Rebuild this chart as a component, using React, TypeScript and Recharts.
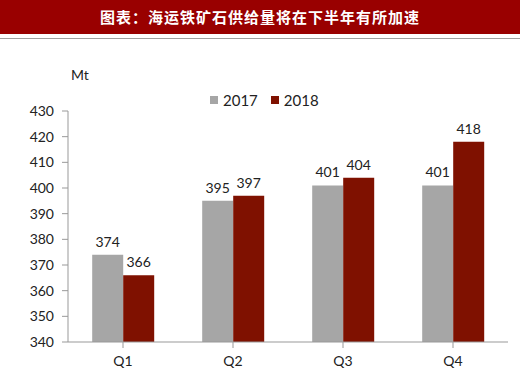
import React from 'react';
import { BarChart, Bar, XAxis, YAxis, LabelList } from 'recharts';

const categories = ['Q1', 'Q2', 'Q3', 'Q4'];
const values2017 = [374, 395, 401, 401];
const values2018 = [366, 397, 404, 418];
const yTicks = [340, 350, 360, 370, 380, 390, 400, 410, 420, 430];

const data = categories.map((q, i) => ({ q, a: values2017[i], b: values2018[i] }));

const GRAY = '#A6A6A6';
const RED = '#7F1100';
const FONT = 'Lato, "Noto Sans", sans-serif';

export default function App() {
  return (
    <div style={{ position: 'absolute', left: 0, top: 0, width: 520, height: 376, background: '#fff', overflow: 'hidden' }}>
      <div style={{ position: 'absolute', left: 0, top: 0, width: 520, height: 34, background: '#990000', color: '#fff', fontFamily: '"Noto Sans CJK SC", sans-serif', fontWeight: 700, fontSize: 15, lineHeight: '34px', textAlign: 'center', letterSpacing: 1 }}>
        图表：海运铁矿石供给量将在下半年有所加速
      </div>
      <div style={{ position: 'absolute', left: 0, top: 38, width: 520, height: 1, background: '#A0A0A0' }} />
      <div style={{ position: 'absolute', left: 71, top: 66, fontFamily: FONT, fontSize: 14, color: '#222' }}>Mt</div>
      <div style={{ position: 'absolute', left: 210, top: 91, display: 'flex', alignItems: 'center', fontFamily: FONT, fontSize: 15, color: '#222' }}>
        <span style={{ width: 8, height: 8, background: GRAY, display: 'inline-block', marginRight: 5 }} />
        <span style={{ marginRight: 13 }}>2017</span>
        <span style={{ width: 8, height: 8, background: RED, display: 'inline-block', marginRight: 5 }} />
        <span>2018</span>
      </div>
      <div style={{ position: 'absolute', left: 0, top: 0 }}>
        <BarChart width={520} height={376} data={data} margin={{ top: 111, right: 12, bottom: 0, left: 0 }} barCategoryGap="22%" barGap={0}>
          <XAxis dataKey="q" height={34} stroke="#999" tickSize={6} tickMargin={8} tick={{ fill: '#222', fontSize: 14, fontFamily: FONT }} tickLine={{ stroke: '#999' }} />
          <YAxis width={68} domain={[340, 430]} ticks={yTicks} allowDataOverflow stroke="#999" tickSize={6} tickMargin={8} tick={{ fill: '#222', fontSize: 14, fontFamily: FONT }} tickLine={{ stroke: '#999' }} />
          <Bar dataKey="a" name="2017" fill={GRAY} isAnimationActive={false}>
            <LabelList dataKey="a" position="top" offset={8} style={{ fill: '#222', fontSize: 14, fontFamily: FONT }} />
          </Bar>
          <Bar dataKey="b" name="2018" fill={RED} isAnimationActive={false}>
            <LabelList dataKey="b" position="top" offset={8} style={{ fill: '#222', fontSize: 14, fontFamily: FONT }} />
          </Bar>
        </BarChart>
      </div>
    </div>
  );
}
